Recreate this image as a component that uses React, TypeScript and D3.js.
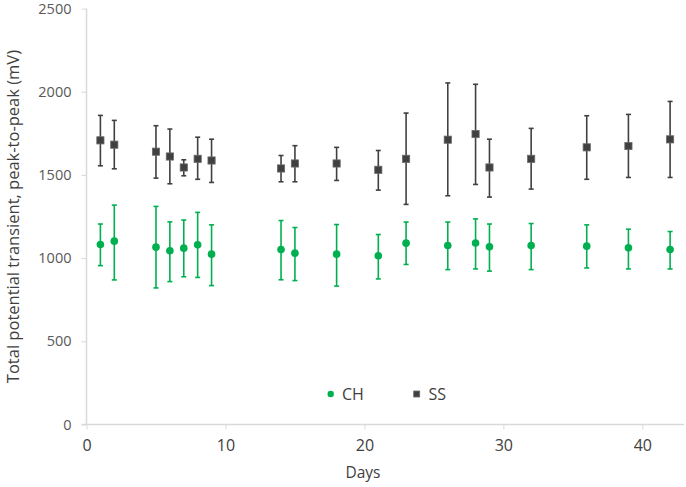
import React, { useRef, useEffect } from 'react'
import * as d3 from 'd3'

const days = [1, 2, 5, 6, 7, 8, 9, 14, 15, 18, 21, 23, 26, 28, 29, 32, 36, 39, 42]

const chMean = [1082, 1102, 1066, 1044, 1060, 1080, 1024, 1052, 1030, 1024, 1014, 1090, 1076, 1091, 1068, 1076, 1072, 1062, 1052]
const chHigh = [1205, 1319, 1311, 1218, 1229, 1275, 1200, 1226, 1184, 1202, 1142, 1217, 1217, 1236, 1205, 1208, 1200, 1174, 1160]
const chLow = [955, 869, 821, 859, 888, 884, 835, 870, 865, 832, 875, 962, 931, 935, 922, 931, 941, 935, 935]

const ssMean = [1708, 1682, 1640, 1611, 1545, 1597, 1587, 1539, 1569, 1569, 1531, 1597, 1712, 1746, 1545, 1597, 1666, 1674, 1714]
const ssHigh = [1858, 1828, 1796, 1776, 1591, 1727, 1715, 1617, 1676, 1666, 1647, 1872, 2053, 2045, 1715, 1780, 1856, 1864, 1942]
const ssLow = [1555, 1537, 1481, 1447, 1495, 1474, 1455, 1459, 1459, 1467, 1409, 1323, 1375, 1443, 1367, 1415, 1474, 1485, 1485]

const xTicks = [0, 10, 20, 30, 40]
const yTicks = [0, 500, 1000, 1500, 2000, 2500]

const GREEN = '#00b050'
const GRAY = '#404040'
const FONT = '"Open Sans", "DejaVu Sans", sans-serif'

export default function App() {
  const svgRef = useRef<SVGSVGElement>(null)

  useEffect(() => {
    document.body.style.margin = '0'
    if (!svgRef.current) return
    const svg = d3.select(svgRef.current)
    svg.selectAll('*').remove()

    const x = d3.scaleLinear().domain([0, 43]).range([86.5, 684])
    const y = d3.scaleLinear().domain([0, 2500]).range([424.5, 8.6])

    // Y axis
    const yAxis = svg.append('g')
      .attr('transform', 'translate(86.5,0)')
      .call(d3.axisLeft(y).tickValues(yTicks).tickSize(5).tickPadding(10).tickFormat(d3.format('d')))
    yAxis.select('.domain').attr('stroke', '#d9d9d9').attr('stroke-width', 1.5)
      .attr('d', `M0,${y(2500)}V${y(0)}`)
    yAxis.selectAll('line').attr('stroke', '#d9d9d9')
    yAxis.selectAll('text').attr('fill', '#595959').attr('font-size', 14.5).attr('font-family', FONT)

    // X axis
    const xAxis = svg.append('g')
      .attr('transform', `translate(0,${y(0)})`)
      .call(d3.axisBottom(x).tickValues(xTicks).tickSize(5).tickPadding(10))
    xAxis.select('.domain').attr('stroke', '#d9d9d9').attr('stroke-width', 1.5)
      .attr('d', `M${x(0) - 5},0H${x(43)}`)
    xAxis.selectAll('line').attr('stroke', '#d9d9d9')
    xAxis.selectAll('text').attr('fill', '#404040').attr('font-size', 16).attr('font-family', FONT)

    // Axis titles
    svg.append('text')
      .attr('transform', `translate(19,${(y(0) + y(2500)) / 2}) rotate(-90)`)
      .attr('text-anchor', 'middle')
      .attr('font-size', 16.5).attr('font-family', FONT).attr('fill', '#404040')
      .text('Total potential transient, peak-to-peak (mV)')

    svg.append('text')
      .attr('x', 363).attr('y', 478)
      .attr('text-anchor', 'middle')
      .attr('font-size', 15.5).attr('font-family', FONT).attr('fill', '#404040')
      .text('Days')

    const drawSeries = (mean: number[], high: number[], low: number[], color: string, shape: 'circle' | 'square') => {
      const g = svg.append('g')
      days.forEach((d, i) => {
        const cx = x(d)
        g.append('line')
          .attr('x1', cx).attr('x2', cx)
          .attr('y1', y(high[i])).attr('y2', y(low[i]))
          .attr('stroke', color).attr('stroke-width', 1.6)
        ;[high[i], low[i]].forEach(v => {
          g.append('line')
            .attr('x1', cx - 2.5).attr('x2', cx + 2.5)
            .attr('y1', y(v)).attr('y2', y(v))
            .attr('stroke', color).attr('stroke-width', 1.6)
        })
        if (shape === 'circle') {
          g.append('circle').attr('cx', cx).attr('cy', y(mean[i])).attr('r', 3.8).attr('fill', color)
        } else {
          g.append('rect')
            .attr('x', cx - 3.6).attr('y', y(mean[i]) - 3.6)
            .attr('width', 7.2).attr('height', 7.2)
            .attr('fill', color).attr('stroke', '#6a6a6a').attr('stroke-width', 0.8)
        }
      })
    }

    drawSeries(ssMean, ssHigh, ssLow, GRAY, 'square')
    drawSeries(chMean, chHigh, chLow, GREEN, 'circle')

    // Legend
    const lg = svg.append('g')
    lg.append('circle').attr('cx', 330.7).attr('cy', 394).attr('r', 3.2).attr('fill', GREEN)
    lg.append('text').attr('x', 342).attr('y', 400)
      .attr('font-size', 16).attr('font-family', FONT).attr('fill', '#404040').text('CH')
    lg.append('rect').attr('x', 413.7).attr('y', 391).attr('width', 6).attr('height', 6)
      .attr('fill', GRAY).attr('stroke', '#6a6a6a').attr('stroke-width', 0.8)
    lg.append('text').attr('x', 428.5).attr('y', 400)
      .attr('font-size', 16).attr('font-family', FONT).attr('fill', '#404040').text('SS')
  }, [])

  return <svg ref={svgRef} width={686} height={487} style={{ display: 'block', background: '#fff' }} />
}
